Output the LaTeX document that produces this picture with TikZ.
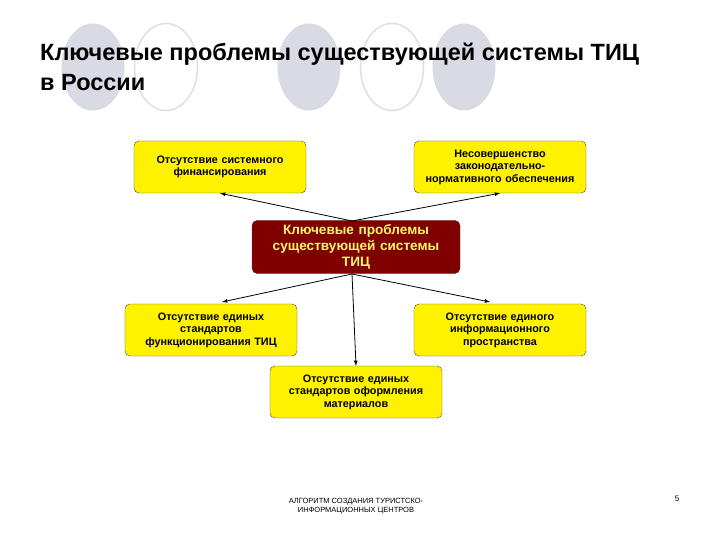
\documentclass[tikz,border=0pt]{standalone}
\usepackage{fontspec}
\setmainfont{Liberation Sans}
\begin{document}
\begin{tikzpicture}[x=1pt,y=-1pt,
  ybox/.style={draw=black!70,fill=yellow,rounded corners=5pt,minimum width=171pt,minimum height=52pt,align=center,font=\bfseries\fontsize{10.8}{12.5}\selectfont,text width=170pt,inner sep=1pt},
  rbox/.style={draw=black!70,fill=red!50!black,rounded corners=5pt,minimum width=208pt,minimum height=53pt,align=center,text=yellow!60,font=\bfseries\fontsize{13.6}{16}\selectfont,text width=206pt,inner sep=1pt},
  arr/.style={-latex,thick},
  ocirc/.style={draw=gray!25,line width=1.5pt}]
\useasboundingbox (0,0) rectangle (720,540);
\fill[white] (0,0) rectangle (720,540);
\fill[blue!15!gray!25] (93,67) ellipse (31.5 and 43.5);
\draw[ocirc] (166,67) ellipse (31.5 and 43.5);
\fill[blue!15!gray!25] (309,67) ellipse (31.5 and 43.5);
\draw[ocirc] (392,67) ellipse (31.5 and 43.5);
\fill[blue!15!gray!25] (464,67) ellipse (31.5 and 43.5);
\node[anchor=west,align=left,xscale=1.0,font=\bfseries\fontsize{23.5}{30}\selectfont,inner sep=0pt] (title) at (40,67) {Ключевые проблемы существующей системы ТИЦ\\в России};
\node[ybox] (tl) at (220,167) {Отсутствие системного\\финансирования\\[8pt]};
\node[ybox] (tr) at (500,167) {Несовершенство\\законодательно-\\нормативного обеспечения};
\node[rbox] (c) at (356,247) {Ключевые проблемы\\существующей системы\\ТИЦ};
\node[ybox] (ml) at (211,330) {Отсутствие единых\\стандартов\\функционирования ТИЦ};
\node[ybox] (mr) at (500,330) {Отсутствие единого\\информационного\\пространства};
\node[ybox] (b) at (356,392) {Отсутствие единых\\стандартов оформления\\материалов};
\coordinate (ct) at (352,221);
\coordinate (cb) at (352,274);
\draw[arr] (ct) -- (tl.south);
\draw[arr] (ct) -- (tr.south);
\draw[arr] (cb) -- (222,302);
\draw[arr] (cb) -- (490,302);
\draw[arr] (cb) -- (b.north);
\node[align=center,font=\fontsize{7.5}{9}\selectfont] (foot) at (356,506) {АЛГОРИТМ СОЗДАНИЯ ТУРИСТСКО-\\ИНФОРМАЦИОННЫХ ЦЕНТРОВ};
\node[font=\fontsize{8}{9}\selectfont] (pg) at (677,499) {5};
\end{tikzpicture}
\end{document}
